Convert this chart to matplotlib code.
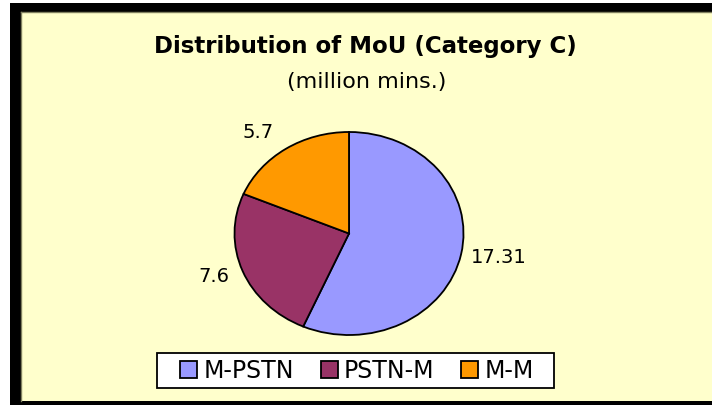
import matplotlib
matplotlib.use("Agg")
import matplotlib.pyplot as plt
import matplotlib.patches as mpatches
import numpy as np

categories = ["M-PSTN", "PSTN-M", "M-M"]
values = [17.31, 7.6, 5.7]
value_labels = ["17.31", "7.6", "5.7"]
colors = ["#9999FF", "#993366", "#FF9900"]
title = "Distribution of MoU (Category C)"
subtitle = "(million mins.)"

plt.rcParams['font.family'] = ['DejaVu Sans']

W, H = 712, 406
fig = plt.figure(figsize=(W / 100, H / 100), dpi=100)
fig.patch.set_facecolor("white")

# background panel with black border (left, top, bottom)
bg = fig.add_axes([0, 0, 1, 1])
bg.set_xlim(0, W)
bg.set_ylim(H, 0)
bg.axis("off")
bg.add_patch(mpatches.Rectangle((10, 4), W - 10, H - 4, facecolor="black", edgecolor="none"))
bg.add_patch(mpatches.Rectangle((21, 13), W - 21, 389, facecolor="#FFFFCC", edgecolor="none"))
bg.plot([21, 21], [13, 402], color="#808060", lw=1)
bg.plot([21, W], [13, 13], color="#808060", lw=1)
# legend frame
bg.add_patch(mpatches.Rectangle((157, 354), 397, 35, facecolor="white",
                                edgecolor="black", linewidth=1.3))

fig.text(365 / W, 1 - 53 / H, title, ha="center", va="baseline",
         fontsize=16.5, fontweight="bold", color="black")
fig.text(367 / W, 1 - 88 / H, subtitle, ha="center", va="baseline",
         fontsize=16, color="black")

# pie axes (elliptical pie like original)
cx, cy, rx, ry = 349, 234.5, 114.5, 101.5
ax = fig.add_axes([(cx - rx) / W, 1 - (cy + ry) / H, 2 * rx / W, 2 * ry / H])
wedges, _ = ax.pie(values, colors=colors, startangle=90, counterclock=False,
                   wedgeprops=dict(edgecolor="black", linewidth=1.3))
ax.set_aspect("auto")
ax.set_xlim(-1, 1)
ax.set_ylim(-1, 1)
ax.axis("off")

dists = [1.09, 1.12, 1.2]
for w, lab, d in zip(wedges, value_labels, dists):
    ang = np.deg2rad((w.theta1 + w.theta2) / 2)
    x, y = d * np.cos(ang), d * np.sin(ang)
    ax.text(x, y, lab, ha="left" if x > 0 else "right", va="center",
            fontsize=14, color="black", clip_on=False)

handles = [mpatches.Patch(facecolor=c, edgecolor="black", linewidth=1.3, label=n)
           for c, n in zip(colors, categories)]
leg = fig.legend(handles=handles, loc="center", bbox_to_anchor=(357 / W, 1 - 371.5 / H),
                 ncol=3, fontsize=17, frameon=False,
                 handlelength=0.72, handleheight=0.72, handletextpad=0.25,
                 columnspacing=1.15, borderpad=0.2, borderaxespad=0)

fig.savefig("out.png", dpi=100, facecolor=fig.get_facecolor())
